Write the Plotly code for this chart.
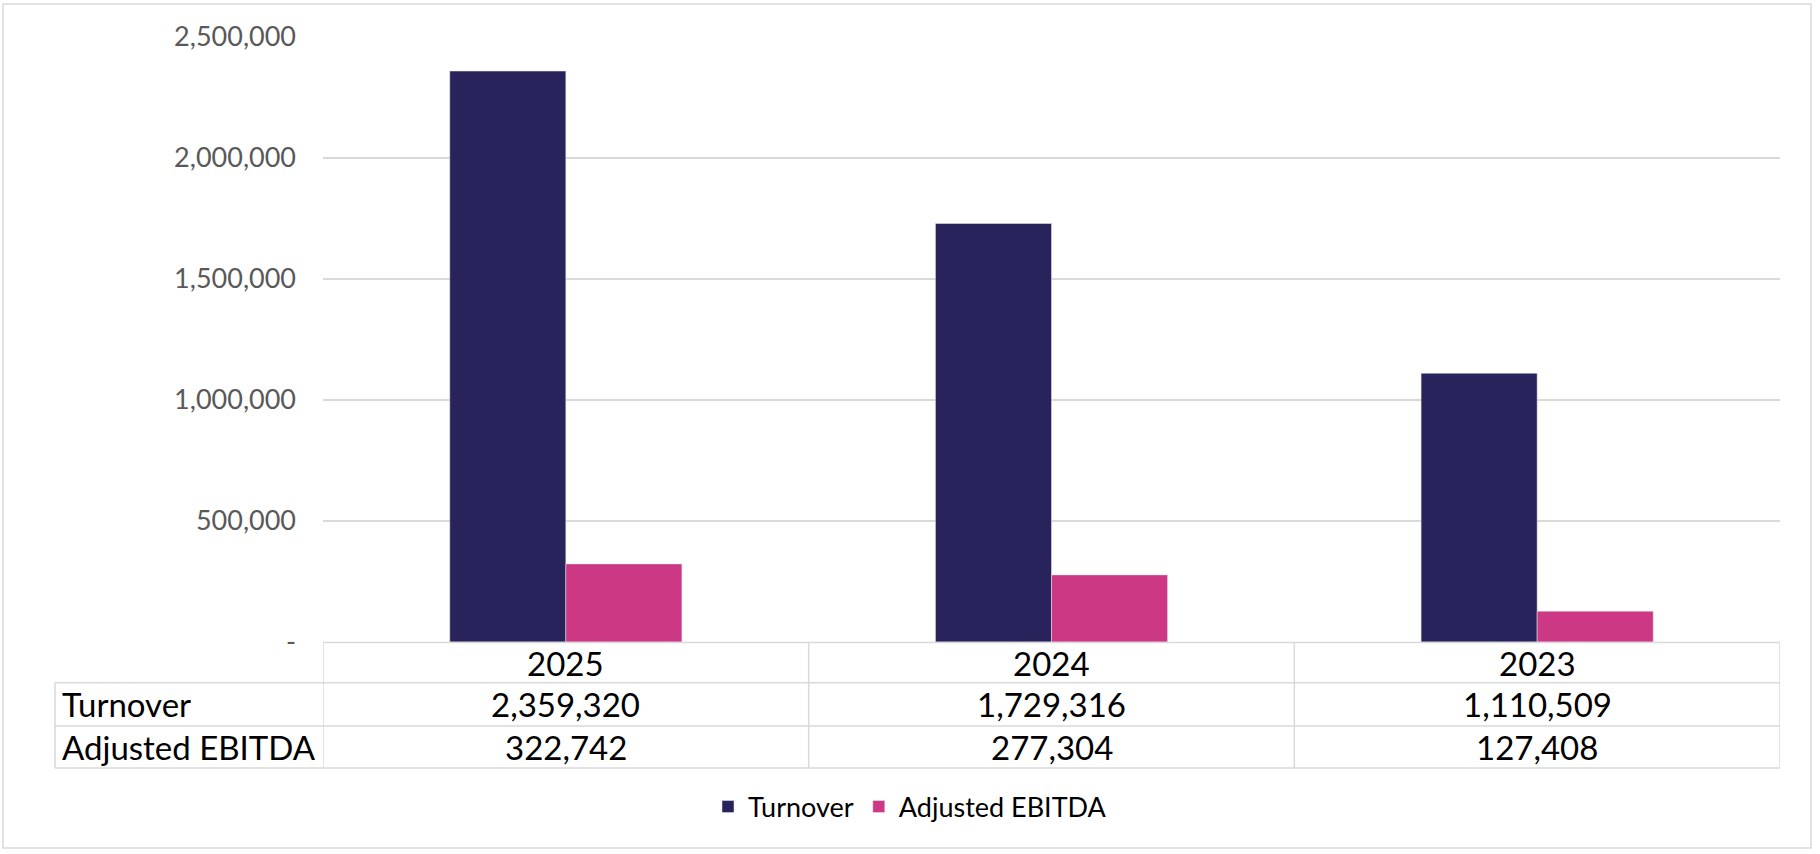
import plotly.graph_objects as go

# ---- data ----
years = ["2025", "2024", "2023"]
turnover = [2359320, 1729316, 1110509]
adj_ebitda = [322742, 277304, 127408]
series_names = ["Turnover", "Adjusted EBITDA"]
y_tickvals = [0, 500000, 1000000, 1500000, 2000000, 2500000]
y_ticktext = ["-", "500,000", "1,000,000", "1,500,000", "2,000,000", "2,500,000"]

# ---- style ----
W, H = 1820, 854
ML, MR, MT, MB = 323, 40, 37, 212
PW, PH = W - ML - MR, H - MT - MB
NAVY = "#29235C"
PINK = "#CD3884"
GRID = "#D9D9D9"
FONT = "Lato, 'Open Sans', sans-serif"


def px_x(p):
    return (p - ML) / PW


def px_y(p):
    return (H - MB - p) / PH


fig = go.Figure()
fig.add_trace(go.Bar(x=years, y=turnover, name=series_names[0], marker_color=NAVY))
fig.add_trace(go.Bar(x=years, y=adj_ebitda, name=series_names[1], marker_color=PINK))

shapes = []
annotations = []
line = dict(color=GRID, width=1.5)

# table row boundaries (pixel y)
y_top, y_r1, y_r2, y_bot = 642.5, 682.7, 726, 768
x_left = px_x(55)
n = len(years)

# header top line (plot area only)
shapes.append(dict(type="line", xref="x", yref="paper", x0=-0.5, x1=n - 0.5,
                   y0=px_y(y_top), y1=px_y(y_top), line=line))
for yy in (y_r1, y_r2, y_bot):
    shapes.append(dict(type="line", xref="paper", yref="paper", x0=x_left, x1=1,
                       y0=px_y(yy), y1=px_y(yy), line=line))
# vertical lines
shapes.append(dict(type="line", xref="paper", yref="paper", x0=x_left, x1=x_left,
                   y0=px_y(y_r1), y1=px_y(y_bot), line=line))
for i in range(n + 1):
    shapes.append(dict(type="line", xref="x", yref="paper", x0=i - 0.5, x1=i - 0.5,
                       y0=px_y(y_top), y1=px_y(y_bot), line=line))
# outer chart border
shapes.append(dict(type="rect", xref="paper", yref="paper",
                   x0=px_x(3), x1=px_x(1811), y0=px_y(4), y1=px_y(848),
                   line=dict(color=GRID, width=1.5), fillcolor="rgba(0,0,0,0)"))

tfont = dict(family=FONT, size=33, color="#000000")
hy = px_y((y_top + y_r1) / 2)
r1y = px_y((y_r1 + y_r2) / 2)
r2y = px_y((y_r2 + y_bot) / 2)
for i, yr in enumerate(years):
    annotations.append(dict(x=i, y=hy, xref="x", yref="paper", text=yr,
                            showarrow=False, font=tfont, xanchor="center", yanchor="middle"))
    annotations.append(dict(x=i, y=r1y, xref="x", yref="paper", text=f"{turnover[i]:,}",
                            showarrow=False, font=tfont, xanchor="center", yanchor="middle"))
    annotations.append(dict(x=i, y=r2y, xref="x", yref="paper", text=f"{adj_ebitda[i]:,}",
                            showarrow=False, font=tfont, xanchor="center", yanchor="middle"))
annotations.append(dict(x=px_x(60), y=r1y, xref="paper", yref="paper", text=series_names[0],
                        showarrow=False, font=tfont, xanchor="left", yanchor="middle"))
annotations.append(dict(x=px_x(60), y=r2y, xref="paper", yref="paper", text=series_names[1],
                        showarrow=False, font=tfont, xanchor="left", yanchor="middle"))

fig.update_layout(
    width=W, height=H,
    margin=dict(l=ML, r=MR, t=MT, b=MB, pad=0),
    paper_bgcolor="white", plot_bgcolor="white",
    barmode="group", bargap=0.522, bargroupgap=0,
    font=dict(family=FONT),
    shapes=shapes, annotations=annotations,
    legend=dict(orientation="h", x=px_x(910), xanchor="center",
                y=px_y(807), yanchor="middle",
                font=dict(family=FONT, size=27, color="#000000"),
                itemwidth=30, tracegroupgap=0, traceorder="normal"),
    showlegend=True,
)
fig.update_xaxes(type="category", range=[-0.5, n - 0.5], showticklabels=False,
                 showgrid=False, showline=False, zeroline=False, fixedrange=True)
fig.update_yaxes(range=[0, 2500000], tickvals=y_tickvals, ticktext=y_ticktext,
                 showgrid=True, gridcolor=GRID, gridwidth=1.5, zeroline=False,
                 showline=False, ticks="", ticklabelstandoff=26,
                 tickfont=dict(family=FONT, size=27, color="#595959"), fixedrange=True)

fig.write_html(
    "out.html",
    config={"displayModeBar": False},
    post_script="document.body.style.margin='0';document.body.style.overflow='hidden';",
)
